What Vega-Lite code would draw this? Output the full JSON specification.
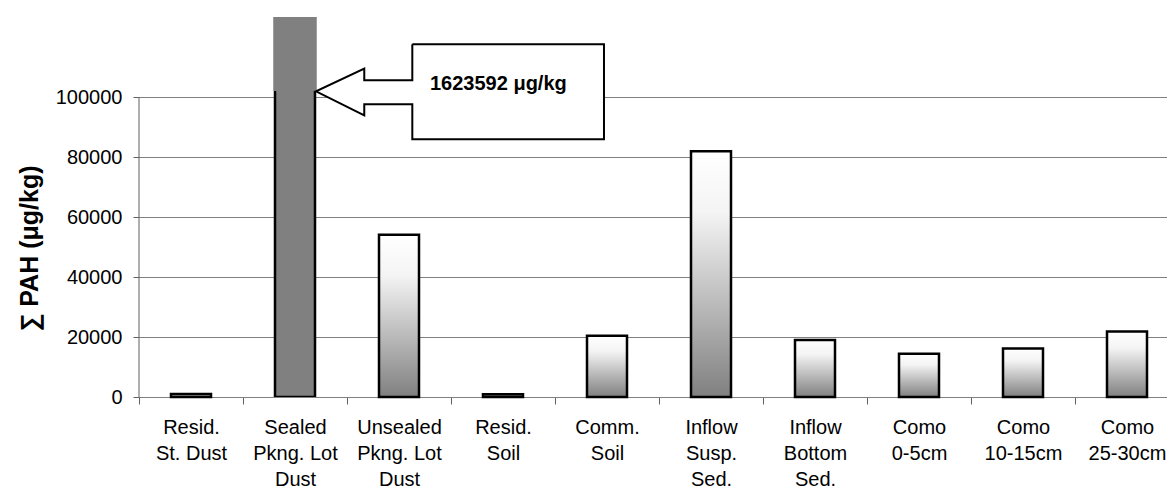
{
  "$schema": "https://vega.github.io/schema/vega-lite/v6.json",
  "width": 1040,
  "height": 380,
  "autosize": {"type": "none"},
  "padding": {"left": 139, "top": 17, "right": -12, "bottom": 94},
  "background": "white",
  "config": {
    "view": {"stroke": null},
    "font": "Liberation Sans"
  },
  "datasets": {
    "pah": [
      {"site": "Resid.|St. Dust", "value": 1000},
      {"site": "Sealed|Pkng. Lot|Dust", "value": 1623592},
      {"site": "Unsealed|Pkng. Lot|Dust", "value": 54100},
      {"site": "Resid.|Soil", "value": 900},
      {"site": "Comm.|Soil", "value": 20400},
      {"site": "Inflow|Susp.|Sed.", "value": 81900},
      {"site": "Inflow|Bottom|Sed.", "value": 19000},
      {"site": "Como|0-5cm", "value": 14400},
      {"site": "Como|10-15cm", "value": 16200},
      {"site": "Como|25-30cm", "value": 21800}
    ],
    "callout": [
      {"i": 1, "x": 2.628, "y": 117567},
      {"i": 2, "x": 4.471, "y": 117567},
      {"i": 3, "x": 4.471, "y": 85900},
      {"i": 4, "x": 2.628, "y": 85900},
      {"i": 5, "x": 2.628, "y": 97567},
      {"i": 6, "x": 2.166, "y": 97567},
      {"i": 7, "x": 2.166, "y": 93900},
      {"i": 8, "x": 1.702, "y": 101900},
      {"i": 9, "x": 2.166, "y": 109467},
      {"i": 10, "x": 2.166, "y": 105567},
      {"i": 11, "x": 2.628, "y": 105567},
      {"i": 12, "x": 2.628, "y": 117567}
    ],
    "note": [
      {"label": "1623592 μg/kg", "x": 2.798, "y": 102233}
    ]
  },
  "layer": [
    {
      "data": {"name": "pah"},
      "encoding": {
        "x": {
          "field": "site",
          "type": "nominal",
          "sort": ["Resid.|St. Dust", "Sealed|Pkng. Lot|Dust", "Unsealed|Pkng. Lot|Dust", "Resid.|Soil", "Comm.|Soil", "Inflow|Susp.|Sed.", "Inflow|Bottom|Sed.", "Como|0-5cm", "Como|10-15cm", "Como|25-30cm"],
          "scale": {"paddingInner": 0, "paddingOuter": 0},
          "axis": {
            "title": null,
            "labelAngle": 0,
            "labelExpr": "isValid(datum.value) ? split(datum.value, '|') : ''",
            "labelFontSize": 20,
            "labelColor": "black",
            "labelLineHeight": 26,
            "labelPadding": 13,
            "labelBaseline": "top",
            "tickBand": "extent",
            "tickSize": 7,
            "tickColor": "#606060",
            "domainColor": "#808080",
            "grid": false
          }
        },
        "y": {
          "field": "value",
          "type": "quantitative",
          "scale": {"domain": [0, 126667], "nice": false, "zero": true},
          "axis": {
            "title": "∑ PAH (μg/kg)",
            "titleFontSize": 25,
            "titleFontWeight": "bold",
            "titleColor": "black",
            "titleAngle": -90,
            "titleX": -110,
            "titleY": 231,
            "titleAlign": "center",
            "titleBaseline": "middle",
            "values": [0, 20000, 40000, 60000, 80000, 100000],
            "format": "d",
            "labelFontSize": 20,
            "labelColor": "black",
            "labelPadding": 11,
            "tickSize": 6,
            "tickColor": "#606060",
            "domain": false,
            "grid": true,
            "gridColor": "#808080",
            "gridWidth": 1
          }
        }
      },
      "layer": [
        {
          "transform": [{"filter": "datum.value < 1000000"}],
          "mark": {
            "type": "bar",
            "size": 40,
            "stroke": "black",
            "strokeWidth": 2.5,
            "fill": {
              "gradient": "linear",
              "x1": 0, "y1": 0, "x2": 0, "y2": 1,
              "stops": [
                {"offset": 0, "color": "#ffffff"},
                {"offset": 0.25, "color": "#f4f4f4"},
                {"offset": 1, "color": "#808080"}
              ]
            }
          }
        },
        {
          "transform": [{"filter": "datum.value >= 1000000"}],
          "mark": {
            "type": "bar",
            "size": 40,
            "clip": true,
            "fill": "#808080",
            "stroke": "black",
            "strokeWidth": 2.5
          }
        },
        {
          "transform": [{"filter": "datum.value >= 1000000"}],
          "mark": {
            "type": "bar",
            "size": 43,
            "clip": true,
            "fill": "#808080",
            "strokeWidth": 0
          },
          "encoding": {
            "y2": {"datum": 102000}
          }
        }
      ]
    },
    {
      "layer": [
        {
          "data": {"name": "callout"},
          "mark": {
            "type": "line",
            "fill": "white",
            "stroke": "black",
            "strokeWidth": 2,
            "strokeJoin": "miter",
            "interpolate": "linear"
          },
          "encoding": {
            "x": {"field": "x", "type": "quantitative", "scale": {"domain": [0, 10], "nice": false, "zero": false}, "axis": null},
            "y": {"field": "y", "type": "quantitative"},
            "order": {"field": "i", "type": "quantitative"}
          }
        },
        {
          "data": {"name": "note"},
          "mark": {
            "type": "text",
            "align": "left",
            "baseline": "alphabetic",
            "fontSize": 20,
            "fontWeight": "bold",
            "font": "Liberation Sans",
            "color": "black"
          },
          "encoding": {
            "x": {"field": "x", "type": "quantitative", "scale": {"domain": [0, 10], "nice": false, "zero": false}, "axis": null},
            "y": {"field": "y", "type": "quantitative"},
            "text": {"field": "label"}
          }
        },
        {
          "data": {"values": [{}]},
          "mark": {"type": "rule", "color": "#606060", "strokeWidth": 1},
          "encoding": {
            "x": {"datum": 0, "type": "quantitative", "scale": {"domain": [0, 10], "nice": false, "zero": false}, "axis": null},
            "y": {"datum": 0, "type": "quantitative"},
            "y2": {"datum": 100000}
          }
        }
      ]
    }
  ],
  "resolve": {"scale": {"x": "independent"}}
}
